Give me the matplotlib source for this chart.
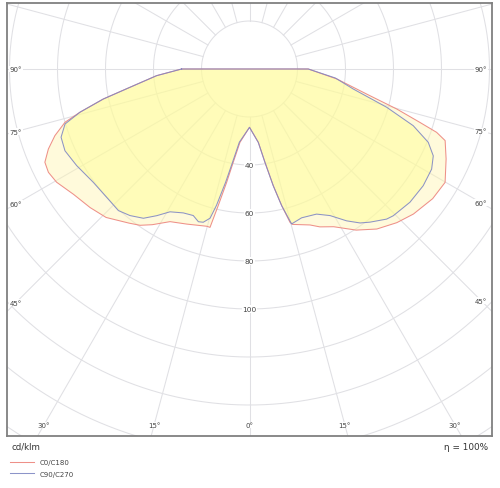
import numpy as np
import matplotlib
matplotlib.use('Agg')
import matplotlib.pyplot as plt

# ---- data (gamma in degrees, intensity in cd/klm) ----
c180_gamma = [0, 7.4, 9.9, 11.4, 12.9, 14.0, 15.2, 22.0, 27.5, 32.0, 35.0, 38.0, 44.0, 49.0, 54.5,
              59.6, 62.8, 65.5, 68.3, 71.1, 73.9, 75.7, 78.4, 81.3, 85.9, 90]
c180_r = [24.3, 30.8, 39.5, 48.2, 58.4, 68.0, 67.9, 69.7, 71.7, 76.5, 79.5, 81.5, 86.0, 88.0, 90.0,
          93.2, 94.2, 93.7, 90.2, 85.7, 80.0, 72.9, 62.2, 50.4, 38.8, 28.3]

c0_gamma = [0, 6.85, 9.4, 11.5, 13.25, 14.8, 15.5, 21.2, 24.0, 28.1, 33.5, 38.5, 43.8, 48.5, 54.7,
            59.9, 65.4, 69.9, 71.3, 72.6, 74.8, 77.5, 83.5, 90]
c0_r = [24.3, 30.8, 39.4, 49.6, 58.5, 66.1, 67.2, 69.7, 72.0, 74.5, 80.5, 85.2, 88.7, 91.2, 93.5,
        94.2, 90.1, 86.8, 82.3, 74.4, 63.6, 51.4, 36.6, 24.5]

c270_gamma = [0, 7.9, 10.3, 11.9, 13.6, 14.8, 16.8, 18.5, 21.0, 24.7, 29.1, 32.3, 35.4, 39.2, 42.8,
              47.4, 54.0, 60.8, 66.1, 70.1, 73.4, 75.7, 78.4, 81.3, 85.9, 90]
c270_r = [24.3, 30.8, 39.5, 48.2, 58.4, 64.3, 66.7, 67.1, 65.4, 66.0, 68.1, 72.3, 76.3, 78.8, 80.4,
          80.0, 80.4, 82.5, 84.1, 83.5, 80.2, 72.9, 62.2, 50.4, 38.8, 28.3]

c90_gamma = [0, 6.85, 9.4, 11.5, 13.25, 15.2, 19.3, 24.8, 28.8, 32.6, 35.7, 38.2, 42.4, 44.4, 50.3,
             56.1, 61.2, 64.7, 67.7, 70.9, 74.4, 79.1, 84.0, 90]
c90_r = [24.3, 30.8, 39.4, 49.6, 58.5, 66.9, 65.7, 66.6, 69.7, 75.1, 79.0, 81.2, 84.7, 85.6, 86.9,
         87.2, 86.6, 84.7, 80.5, 72.2, 59.4, 44.0, 36.0, 24.5]

ring_values = [20, 40, 60, 80, 100, 120, 140, 160, 180]
ring_labels = [40, 60, 80, 100]
side_angles = [45, 60, 75, 90]
bottom_angles = [0, 15, 30]
legend_labels = ['C0/C180', 'C90/C270']
unit_text = 'cd/klm'
eta_text = 'η = 100%'

# ---- layout ----
W, H = 500, 489
fig = plt.figure(figsize=(W / 100, H / 100), dpi=100)
cx, cy, scale = 249.5, 70.0, 2.4
left, right, top, bottom = 7, 492, 4, 437
ax = fig.add_axes([left / W, 1 - bottom / H, (right - left) / W, (bottom - top) / H])
ax.set_xlim((left - cx) / scale, (right - cx) / scale)
ax.set_ylim((cy - bottom) / scale, (cy - top) / scale)
ax.set_xticks([])
ax.set_yticks([])
for s in ax.spines.values():
    s.set_color('#808080')
    s.set_linewidth(1.3)
    s.set_zorder(10)

grid_c = '#e0e0e4'
t = np.linspace(0, 2 * np.pi, 721)
for rv in ring_values:
    ax.plot(rv * np.cos(t), rv * np.sin(t), color=grid_c, lw=0.75, zorder=1)
for a in range(0, 360, 15):
    ar = np.deg2rad(a)
    ax.plot([20 * np.sin(ar), 260 * np.sin(ar)], [-20 * np.cos(ar), -260 * np.cos(ar)],
            color=grid_c, lw=0.75, zorder=1)


def curve(g_left, r_left, g_right, r_right):
    gl = np.deg2rad(np.asarray(g_left))
    gr = np.deg2rad(np.asarray(g_right))
    rl = np.asarray(r_left)
    rr = np.asarray(r_right)
    xl, yl = -rl * np.sin(gl), -rl * np.cos(gl)
    xr, yr = rr * np.sin(gr), -rr * np.cos(gr)
    X = np.concatenate([xl[::-1], xr, [0.0], [xl[-1]]])
    Y = np.concatenate([yl[::-1], yr, [0.0], [yl[-1]]])
    return X, Y


X1, Y1 = curve(c180_gamma, c180_r, c0_gamma, c0_r)
X2, Y2 = curve(c270_gamma, c270_r, c90_gamma, c90_r)

ax.fill(X1, Y1, facecolor='#FFF5B0', alpha=0.45, edgecolor='none', zorder=2)
ax.fill(X2, Y2, facecolor='#FFFF90', alpha=0.45, edgecolor='none', zorder=3)
l1, = ax.plot(X1, Y1, color='#EE9088', lw=0.75, zorder=4)
l2, = ax.plot(X2, Y2, color='#8088C4', lw=0.75, alpha=0.9, zorder=5)

lab_c = '#444444'
for rv in ring_labels:
    ax.text(0, -rv, str(rv), ha='center', va='center', fontsize=5.3, color=lab_c, zorder=8,
            bbox=dict(facecolor='white', edgecolor='none', pad=0.5))

xl_lab = (16 - cx) / scale
xr_lab = (481 - cx) / scale
for a in side_angles:
    ar = np.deg2rad(a)
    yl = xl_lab / np.tan(ar) if a != 90 else 0.0
    ax.text(xl_lab, yl, f'{a}°', ha='center', va='center', fontsize=5, color=lab_c, zorder=8,
            bbox=dict(facecolor='white', edgecolor='none', pad=0.3))
    yr = -xr_lab / np.tan(ar) if a != 90 else 0.0
    ax.text(xr_lab, yr, f'{a}°', ha='center', va='center', fontsize=5, color=lab_c, zorder=8,
            bbox=dict(facecolor='white', edgecolor='none', pad=0.3))

yb_lab = (cy - 426) / scale
for a in bottom_angles:
    ar = np.deg2rad(a)
    xs = [0.0] if a == 0 else [-(-yb_lab) * np.tan(ar), (-yb_lab) * np.tan(ar)]
    for x in xs:
        ax.text(x, yb_lab, f'{a}°', ha='center', va='center', fontsize=5, color=lab_c, zorder=8,
                bbox=dict(facecolor='white', edgecolor='none', pad=0.3))

fig.text(11 / W, 1 - 447 / H, unit_text, ha='left', va='center', fontsize=6.2, color='#333333')
fig.text(488 / W, 1 - 447 / H, eta_text, ha='right', va='center', fontsize=6.4, color='#333333')

fig.legend(handles=[l1, l2], labels=legend_labels, loc='upper left',
           bbox_to_anchor=(10 / W, 1 - 460 / H), frameon=False, fontsize=5,
           handlelength=3.5, handletextpad=0.7, labelspacing=0.85, borderpad=0,
           borderaxespad=0, labelcolor='#444444')

fig.savefig('out.png', dpi=100, facecolor='white')
